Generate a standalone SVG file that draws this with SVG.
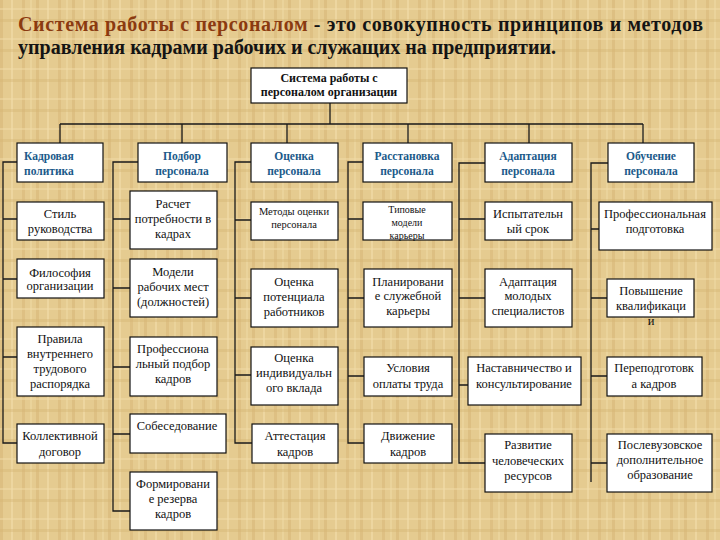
<svg xmlns="http://www.w3.org/2000/svg" width="720" height="540" viewBox="0 0 720 540">
<defs>
<pattern id="parch" width="36" height="30" patternUnits="userSpaceOnUse">
<rect width="36" height="30" fill="#E5CB90"/>
<rect x="0" y="0" width="3" height="30" fill="#D6B474" opacity="0.5"/>
<rect x="11" y="0" width="2" height="30" fill="#F2DEAA" opacity="0.6"/>
<rect x="22" y="0" width="3" height="30" fill="#D4B070" opacity="0.4"/>
<rect x="30" y="0" width="2" height="30" fill="#F0DBA6" opacity="0.5"/>
<rect x="0" y="8" width="36" height="2" fill="#F1DCA8" opacity="0.5"/>
<rect x="0" y="19" width="36" height="3" fill="#D5B373" opacity="0.4"/>
</pattern>
<style>
.bx{fill:#ffffff;stroke:#111;stroke-width:1.2}
.ln{fill:none;stroke:#1a1a1a;stroke-width:1.3}
text{font-family:'Liberation Serif','Times New Roman','DejaVu Serif',serif}
.t{font-size:12.5px;fill:#111;text-anchor:middle}
.s{font-size:10.5px}
.xs{font-size:10px}
.rt{font-size:12px;font-weight:bold}
.h{font-size:11.5px;font-weight:bold;fill:#1B5A8A;text-anchor:middle}
.ttl{font-size:20px;font-weight:bold;fill:#141414}
</style>
</defs>
<rect width="720" height="540" fill="url(#parch)"/>

<g id="title">
<text class="ttl" x="18" y="31" textLength="685" lengthAdjust="spacing"><tspan fill="#8B3A10">Система работы с персоналом</tspan> - это совокупность принципов и методов</text>
<text class="ttl" x="18" y="54">управления кадрами рабочих и служащих на предприятии.</text>
</g>

<g id="connectors">
<path class="ln" d="M330,103V124M60,124H643M60,124V143M182,124V143M287,124V143M408,124V143M529,124V143M643,124V143"/>
<path class="ln" d="M17,162H3V443H17M3,219H17M3,279H17M3,357H17"/>
<path class="ln" d="M138,162H113V511H130M113,219H130M113,288H130M113,367H130M113,434H130"/>
<path class="ln" d="M251,162H235V443H252M235,220H251M235,298H251M235,375H251"/>
<path class="ln" d="M363,162H348V443H364M348,219H363M348,298H364M348,376H364"/>
<path class="ln" d="M485,163H459V463H485M459,219H485M459,298H485M459,385H468"/>
<path class="ln" d="M608,163H591V482M591,229H599M591,298H607M591,376H607M591,463H607"/>
</g>

<g id="root">
<rect class="bx" x="251" y="68" width="156" height="35"/>
<text class="t rt" x="329" y="82">Система работы с</text>
<text class="t rt" x="329" y="96">персоналом организации</text>
</g>

<g id="h1"><rect class="bx" x="17" y="143" width="86" height="39"/>
<text class="h" x="24" y="160" style="text-anchor:start">Кадровая</text><text class="h" x="24" y="175" style="text-anchor:start">политика</text></g>
<g id="h2"><rect class="bx" x="138" y="143" width="89" height="39"/>
<text class="h" x="182" y="160">Подбор</text><text class="h" x="182" y="175">персонала</text></g>
<g id="h3"><rect class="bx" x="251" y="143" width="87" height="39"/>
<text class="h" x="294" y="160">Оценка</text><text class="h" x="294" y="175">персонала</text></g>
<g id="h4"><rect class="bx" x="363" y="143" width="89" height="39"/>
<text class="h" x="407" y="160">Расстановка</text><text class="h" x="407" y="175">персонала</text></g>
<g id="h5"><rect class="bx" x="485" y="143" width="87" height="39"/>
<text class="h" x="528" y="160">Адаптация</text><text class="h" x="528" y="175">персонала</text></g>
<g id="h6"><rect class="bx" x="608" y="143" width="86" height="39"/>
<text class="h" x="651" y="160">Обучение</text><text class="h" x="651" y="175">персонала</text></g>

<g id="c1a"><rect class="bx" x="17" y="202" width="87" height="38"/>
<text class="t" x="60" y="218">Стиль</text><text class="t" x="60" y="233">руководства</text></g>
<g id="c1b"><rect class="bx" x="17" y="259" width="87" height="39"/>
<text class="t" x="60" y="277">Философия</text><text class="t" x="60" y="290">организации</text></g>
<g id="c1c"><rect class="bx" x="17" y="327" width="87" height="69"/>
<text class="t" x="60" y="343">Правила</text><text class="t" x="60" y="358">внутреннего</text><text class="t" x="60" y="373">трудового</text><text class="t" x="60" y="388">распорядка</text></g>
<g id="c1d"><rect class="bx" x="17" y="424" width="87" height="39"/>
<text class="t" x="60" y="440">Коллективной</text><text class="t" x="60" y="456">договор</text></g>

<g id="c2a"><rect class="bx" x="130" y="191" width="87" height="58"/>
<text class="t" x="173" y="208">Расчет</text><text class="t" x="173" y="223">потребности в</text><text class="t" x="173" y="238">кадрах</text></g>
<g id="c2b"><rect class="bx" x="130" y="259" width="87" height="58"/>
<text class="t" x="173" y="276">Модели</text><text class="t" x="173" y="291">рабочих мест</text><text class="t" x="173" y="306">(должностей)</text></g>
<g id="c2c"><rect class="bx" x="130" y="337" width="87" height="59"/>
<text class="t" x="173" y="353">Профессиона</text><text class="t" x="173" y="368">льный подбор</text><text class="t" x="173" y="383">кадров</text></g>
<g id="c2d"><rect class="bx" x="130" y="414" width="96" height="39"/>
<text class="t" x="177" y="430">Собеседование</text></g>
<g id="c2e"><rect class="bx" x="130" y="472" width="87" height="58"/>
<text class="t" x="173" y="488">Формировани</text><text class="t" x="173" y="503">е резерва</text><text class="t" x="173" y="518">кадров</text></g>

<g id="c3a"><rect class="bx" x="251" y="202" width="87" height="38"/>
<text class="t s" x="294" y="215">Методы оценки</text><text class="t s" x="294" y="228">персонала</text></g>
<g id="c3b"><rect class="bx" x="251" y="269" width="87" height="58"/>
<text class="t" x="294" y="286">Оценка</text><text class="t" x="294" y="301">потенциала</text><text class="t" x="294" y="316">работников</text></g>
<g id="c3c"><rect class="bx" x="251" y="347" width="87" height="58"/>
<text class="t" x="294" y="362">Оценка</text><text class="t" x="294" y="377">индивидуальн</text><text class="t" x="294" y="392">ого вклада</text></g>
<g id="c3d"><rect class="bx" x="252" y="424" width="86" height="39"/>
<text class="t" x="295" y="440">Аттестация</text><text class="t" x="295" y="456">кадров</text></g>

<g id="c4a"><rect class="bx" x="363" y="202" width="89" height="38"/>
<text class="t xs" x="407" y="213">Типовые</text><text class="t xs" x="407" y="226">модели</text><text class="t xs" x="407" y="238.5">карьеры</text></g>
<g id="c4b"><rect class="bx" x="364" y="269" width="88" height="58"/>
<text class="t" x="408" y="286">Планировани</text><text class="t" x="408" y="300">е служебной</text><text class="t" x="408" y="315">карьеры</text></g>
<g id="c4c"><rect class="bx" x="364" y="357" width="88" height="39"/>
<text class="t" x="408" y="372">Условия</text><text class="t" x="408" y="388">оплаты труда</text></g>
<g id="c4d"><rect class="bx" x="364" y="424" width="88" height="39"/>
<text class="t" x="408" y="440">Движение</text><text class="t" x="408" y="456">кадров</text></g>

<g id="c5a"><rect class="bx" x="485" y="202" width="87" height="38"/>
<text class="t" x="528" y="218">Испытательн</text><text class="t" x="528" y="233">ый срок</text></g>
<g id="c5b"><rect class="bx" x="485" y="269" width="87" height="58"/>
<text class="t" x="528" y="286">Адаптация</text><text class="t" x="528" y="300">молодых</text><text class="t" x="528" y="315">специалистов</text></g>
<g id="c5c"><rect class="bx" x="468" y="357" width="113" height="48"/>
<text class="t" x="524" y="372">Наставничество и</text><text class="t" x="524" y="388">консультирование</text></g>
<g id="c5d"><rect class="bx" x="485" y="434" width="87" height="58"/>
<text class="t" x="528" y="449">Развитие</text><text class="t" x="528" y="465">человеческих</text><text class="t" x="528" y="480">ресурсов</text></g>

<g id="c6a"><rect class="bx" x="599" y="202" width="113" height="48"/>
<text class="t" x="655" y="218">Профессиональная</text><text class="t" x="655" y="233">подготовка</text></g>
<g id="c6b"><rect class="bx" x="607" y="279" width="87" height="38"/>
<text class="t" x="651" y="295">Повышение</text><text class="t" x="651" y="310">квалификаци</text><text class="t" x="651" y="325">и</text></g>
<g id="c6c"><rect class="bx" x="607" y="357" width="95" height="39"/>
<text class="t" x="654" y="372">Переподготовк</text><text class="t" x="654" y="388">а кадров</text></g>
<g id="c6d"><rect class="bx" x="607" y="434" width="105" height="58"/>
<text class="t" x="660" y="449">Послевузовское</text><text class="t" x="660" y="464">дополнительное</text><text class="t" x="660" y="479">образование</text></g>
</svg>
